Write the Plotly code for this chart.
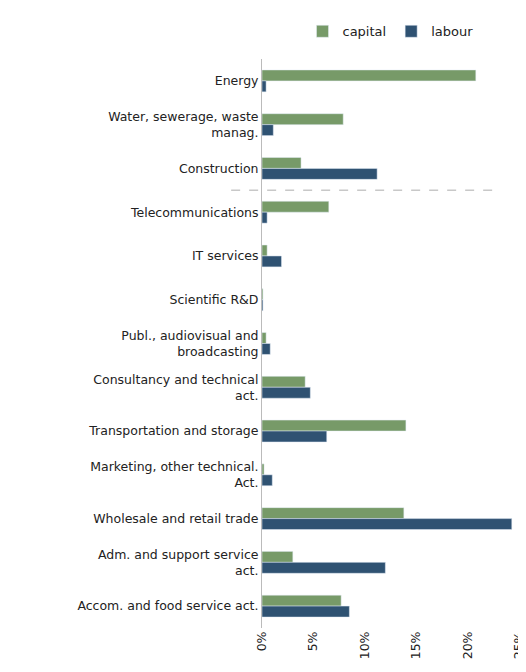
import plotly.graph_objects as go

categories = ["Energy", "Water, sewerage, waste<br>manag.", "Construction", "Telecommunications",
              "IT services", "Scientific R&D", "Publ., audiovisual and<br>broadcasting",
              "Consultancy and technical<br>act.", "Transportation and storage",
              "Marketing, other technical.<br>Act.", "Wholesale and retail trade",
              "Adm. and support service<br>act.", "Accom. and food service act."]
capital = [20.8, 7.9, 3.8, 6.5, 0.5, 0.1, 0.4, 4.2, 14.0, 0.2, 13.8, 3.0, 7.7]
labour = [0.4, 1.1, 11.2, 0.5, 1.9, 0.1, 0.8, 4.7, 6.3, 1.0, 24.3, 12.0, 8.5]
tick_vals = [0, 5, 10, 15, 20, 25]
tick_text = ["0%", "5%", "10%", "15%", "20%", "25%"]

fig = go.Figure()
fig.add_bar(y=categories, x=capital, orientation="h", name="capital", marker_color="#779a68")
fig.add_bar(y=categories, x=labour, orientation="h", name="labour", marker_color="#2f5272")
fig.add_shape(type="line", xref="paper", yref="y", x0=-0.12, x1=0.93, y0=2.5, y1=2.5,
              line=dict(color="#c8c8c8", width=1.5, dash="dash"))
fig.update_layout(
    width=526, height=672, barmode="group", bargap=0.5, bargroupgap=0,
    margin=dict(l=254, r=8, t=45, b=52),
    plot_bgcolor="white", paper_bgcolor="white",
    font=dict(family="DejaVu Sans", size=12.5, color="#222"),
    legend=dict(orientation="h", x=0.5, y=1.075, xanchor="center", yanchor="top",
                font=dict(size=13), itemwidth=30, traceorder="normal"),
    xaxis=dict(range=[0, 25], tickvals=tick_vals, ticktext=tick_text, tickangle=-90,
               showgrid=False, zeroline=False, showline=False),
    yaxis=dict(categoryorder="array", categoryarray=categories, autorange="reversed",
               showline=True, linecolor="#bbbbbb", linewidth=1, ticks="", showgrid=False),
)
fig.write_html("out.html")
